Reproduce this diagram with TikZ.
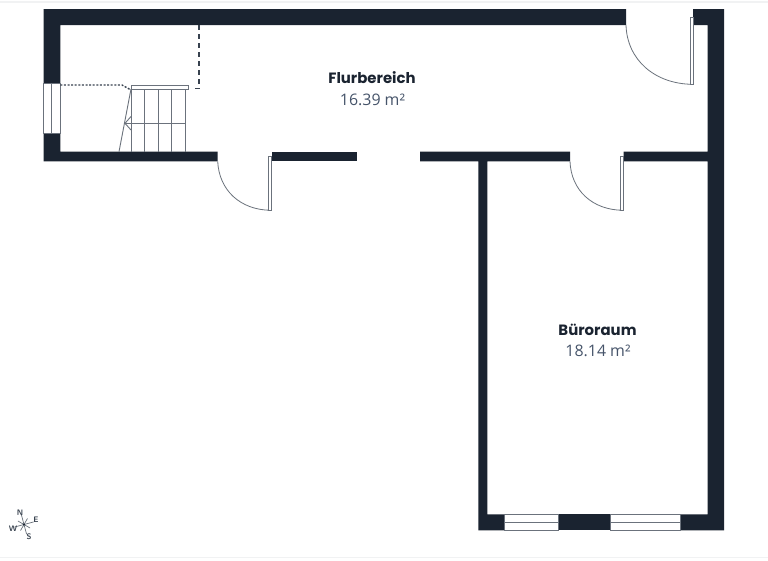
\documentclass[tikz,border=0pt]{standalone}
\usepackage{fontspec}
\setmainfont{Open Sans}
\newfontfamily\titlefont{Poppins}
\definecolor{wallc}{HTML}{1A2330}
\definecolor{linec}{HTML}{6B727C}
\definecolor{subc}{HTML}{46546A}
\definecolor{edgec}{HTML}{F1F2F3}
\definecolor{hiddenc}{HTML}{38424F}
\tikzset{
  wall/.style={fill=wallc,draw=none},
  fine/.style={draw=linec,line width=0.9pt},
  leaf/.style={draw=linec,line width=0.8pt,fill=white},
  swing/.style={draw=linec,line width=0.8pt},
  opening/.style={draw=linec,line width=1pt,fill=white},
  roomname/.style={font=\titlefont\fontsize{14.9}{16}\selectfont\bfseries,text=wallc,inner sep=0pt},
  roomarea/.style={font=\fontsize{15.9}{18}\selectfont,text=subc,inner sep=0pt},
  compass/.style={font=\sffamily\bfseries\fontsize{8}{8}\selectfont,text=hiddenc,inner sep=0pt},
  starline/.style={draw=linec,line width=0.7pt}
}
\begin{document}
\begin{tikzpicture}[x=1pt,y=-1pt]
\useasboundingbox (0,0) rectangle (768,560);
\fill[white] (0,0) rectangle (768,560);
\fill[edgec] (0,1) rectangle (768,2.5);
\fill[edgec] (0,556.5) rectangle (768,558);
% walls
\fill[wall] (43.7,9) -- (626,9) -- (626,25) -- (60.3,25) -- (60.3,151.7) -- (217.7,151.7) -- (217.7,161.3) -- (43.7,161.3) -- cycle;
\fill[wall] (693,9) -- (724,9) -- (724,530.3) -- (680.3,530.3) -- (680.3,514.3) -- (707.7,514.3) -- (707.7,161.3) -- (623.7,161.3) -- (623.7,151.7) -- (707.7,151.7) -- (707.7,25) -- (693,25) -- cycle;
\fill[wall] (271.7,151.7) rectangle (356.7,161.3);
\fill[wall] (420,151.7) -- (570,151.7) -- (570,161.3) -- (487.3,161.3) -- (487.3,514.3) -- (504.3,514.3) -- (504.3,530.3) -- (478.3,530.3) -- (478.3,161.3) -- (420,161.3) -- cycle;
\fill[wall] (558.7,514.3) rectangle (610.7,530.3);
% windows
\draw[opening] (43.7,83.3) rectangle (60.3,133.3);
\draw[fine] (51.7,83.3) -- (51.7,133.3);
\draw[opening] (504.3,514.3) rectangle (558.7,530.3);
\draw[fine] (504.3,522.3) -- (558.7,522.3);
\draw[opening] (610.7,514.3) rectangle (680.3,530.3);
\draw[fine] (610.7,522.3) -- (680.3,522.3);
% doors
\draw[swing] (626,25) .. controls (627,60) and (655,84) .. (692.5,84.3);
\draw[leaf] (690.5,17) rectangle (693,84.3);
\draw[swing] (217.7,161.3) .. controls (219,190) and (240,210) .. (271,210.3);
\draw[leaf] (268.7,156) rectangle (271.7,210.3);
\draw[swing] (570,161.3) .. controls (571,190) and (592,210) .. (623,210.3);
\draw[leaf] (620.7,156) rectangle (623.7,210.3);
% stairs
\foreach \x in {131,144.5,158,171.5,185} \draw[fine] (\x,89) -- (\x,151.7);
\draw[fine] (125,123.3) -- (185,123.3);
\draw[fine] (131,89) -- (119,151.7);
\draw[fine] (131,116.5) -- (125,123.3) -- (131,130);
\draw[leaf] (131,85.7) rectangle (188.7,89.3);
% hidden edges
\draw[hiddenc,line width=1.4pt,dash pattern=on 2pt off 1.6pt] (60.3,85) -- (122,85) -- (130,89.5);
\draw[hiddenc,line width=1.4pt,dash pattern=on 5pt off 4pt] (199,25) -- (199,88.5) -- (192,88.5);
% labels
\node[roomname] (flurname) at (372,78) {Flurbereich};
\node[roomarea] (flurarea) at (372.5,99.5) {16.39 m²};
\node[roomname] (bueroname) at (597.5,329.5) {Büroraum};
\node[roomarea] (bueroarea) at (598,351) {18.14 m²};
% compass
\coordinate (cc) at (24,524.5);
\foreach \a in {-15,75,165,255} \draw[starline] (cc) -- ++(\a:10);
\foreach \a in {30,120,210,300} \draw[starline] (cc) -- ++(\a:7);
\fill[wallc] (cc) circle (1.2);
\node[compass] (cn) at (20,513) {N};
\node[compass] (ce) at (36,520) {E};
\node[compass] (cs) at (29,536.5) {S};
\node[compass] (cw) at (13,529) {W};
\end{tikzpicture}
\end{document}
